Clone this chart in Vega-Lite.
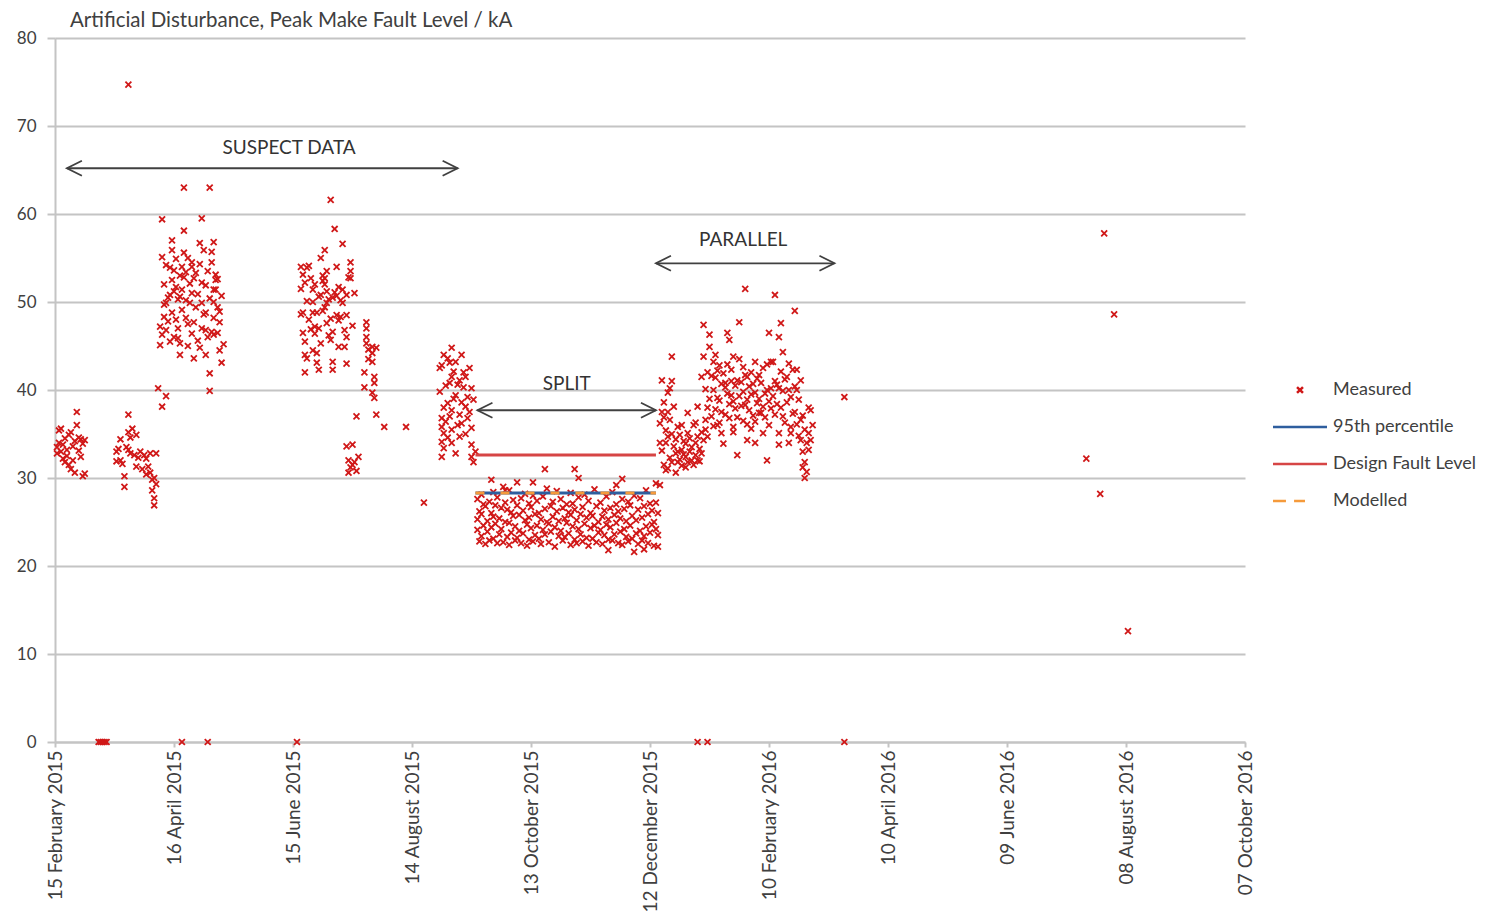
{
"$schema":"https://vega.github.io/schema/vega-lite/v6.json",
"width":1190,"height":704,
"autosize":"none",
"padding":{"left":55,"top":38,"right":241,"bottom":173},
"background":"white",
"title":{"text":"Artificial Disturbance, Peak Make Fault Level / kA","anchor":"start","frame":"group","offset":-2,"dx":15,"fontSize":20.5,"font":"Lato","fontWeight":"normal","color":"#404040"},
"config":{"view":{"stroke":null},"font":"Lato"},
"datasets":{
"measured":[
{"d":"2015-02-16","k":33.5},{"d":"2015-02-16","k":32.8},{"d":"2015-02-17","k":35.4},{"d":"2015-02-17","k":34.0},{"d":"2015-02-18","k":33.0},{"d":"2015-02-18","k":35.6},{"d":"2015-02-19","k":32.2},{"d":"2015-02-19","k":33.8},{"d":"2015-02-20","k":31.8},{"d":"2015-02-20","k":34.5},{"d":"2015-02-21","k":33.2},{"d":"2015-02-21","k":32.5},{"d":"2015-02-22","k":31.5},{"d":"2015-02-22","k":34.9},{"d":"2015-02-23","k":31.0},{"d":"2015-02-23","k":35.2},{"d":"2015-02-24","k":33.6},{"d":"2015-02-24","k":32.0},{"d":"2015-02-25","k":34.2},{"d":"2015-02-25","k":30.6},{"d":"2015-02-26","k":37.5},{"d":"2015-02-26","k":36.0},{"d":"2015-02-27","k":34.6},{"d":"2015-02-27","k":33.1},{"d":"2015-02-28","k":34.4},{"d":"2015-02-28","k":32.4},{"d":"2015-03-01","k":30.2},{"d":"2015-03-01","k":33.9},{"d":"2015-03-02","k":30.5},{"d":"2015-03-02","k":34.3},
{"d":"2015-03-09","k":0},{"d":"2015-03-10","k":0},{"d":"2015-03-11","k":0},{"d":"2015-03-12","k":0},{"d":"2015-03-13","k":0},
{"d":"2015-03-18","k":33.0},{"d":"2015-03-18","k":31.9},{"d":"2015-03-19","k":33.3},{"d":"2015-03-20","k":32.0},{"d":"2015-03-20","k":34.4},{"d":"2015-03-21","k":31.6},{"d":"2015-03-22","k":30.2},{"d":"2015-03-22","k":29.0},{"d":"2015-03-23","k":33.5},{"d":"2015-03-24","k":37.2},{"d":"2015-03-24","k":35.2},{"d":"2015-03-24","k":33.2},{"d":"2015-03-24","k":74.7},{"d":"2015-03-25","k":32.8},{"d":"2015-03-25","k":34.6},{"d":"2015-03-26","k":35.6},{"d":"2015-03-27","k":32.6},{"d":"2015-03-28","k":31.3},{"d":"2015-03-28","k":34.9},{"d":"2015-03-29","k":32.3},{"d":"2015-03-30","k":33.0},{"d":"2015-03-31","k":31.0},{"d":"2015-04-01","k":32.6},{"d":"2015-04-02","k":32.2},{"d":"2015-04-02","k":30.4},{"d":"2015-04-03","k":31.3},{"d":"2015-04-04","k":30.6},{"d":"2015-04-04","k":32.8},{"d":"2015-04-05","k":29.8},{"d":"2015-04-05","k":28.6},{"d":"2015-04-06","k":27.7},{"d":"2015-04-06","k":26.9},{"d":"2015-04-06","k":30.0},{"d":"2015-04-07","k":32.8},{"d":"2015-04-07","k":29.3},
{"d":"2015-04-08","k":40.2},{"d":"2015-04-09","k":45.1},{"d":"2015-04-09","k":47.2},{"d":"2015-04-10","k":59.4},{"d":"2015-04-10","k":55.1},{"d":"2015-04-10","k":46.3},{"d":"2015-04-10","k":38.1},{"d":"2015-04-11","k":49.7},{"d":"2015-04-11","k":48.3},{"d":"2015-04-11","k":52.0},{"d":"2015-04-12","k":49.9},{"d":"2015-04-12","k":46.8},{"d":"2015-04-12","k":39.3},{"d":"2015-04-12","k":54.2},{"d":"2015-04-13","k":50.5},{"d":"2015-04-13","k":47.8},{"d":"2015-04-14","k":50.8},{"d":"2015-04-14","k":53.9},{"d":"2015-04-14","k":45.5},{"d":"2015-04-15","k":57.0},{"d":"2015-04-15","k":55.9},{"d":"2015-04-15","k":52.5},{"d":"2015-04-15","k":48.8},{"d":"2015-04-16","k":53.6},{"d":"2015-04-16","k":46.0},{"d":"2015-04-16","k":51.2},{"d":"2015-04-17","k":51.7},{"d":"2015-04-17","k":48.0},{"d":"2015-04-17","k":54.9},{"d":"2015-04-18","k":47.0},{"d":"2015-04-18","k":45.9},{"d":"2015-04-18","k":50.3},{"d":"2015-04-19","k":50.6},{"d":"2015-04-19","k":45.3},{"d":"2015-04-19","k":44.0},{"d":"2015-04-19","k":53.0},{"d":"2015-04-20","k":54.0},{"d":"2015-04-20","k":51.4},{"d":"2015-04-20","k":49.1},{"d":"2015-04-20","k":0},{"d":"2015-04-21","k":63.0},{"d":"2015-04-21","k":58.1},{"d":"2015-04-21","k":55.6},{"d":"2015-04-21","k":52.8},{"d":"2015-04-22","k":48.2},{"d":"2015-04-22","k":50.2},{"d":"2015-04-22","k":53.4},{"d":"2015-04-23","k":45.0},{"d":"2015-04-23","k":55.0},{"d":"2015-04-23","k":47.5},{"d":"2015-04-24","k":49.9},{"d":"2015-04-24","k":52.1},{"d":"2015-04-25","k":54.5},{"d":"2015-04-25","k":54.0},{"d":"2015-04-25","k":51.0},{"d":"2015-04-25","k":46.4},{"d":"2015-04-26","k":52.7},{"d":"2015-04-26","k":47.7},{"d":"2015-04-26","k":43.6},{"d":"2015-04-27","k":49.4},{"d":"2015-04-27","k":53.3},{"d":"2015-04-28","k":50.9},{"d":"2015-04-28","k":45.6},{"d":"2015-04-29","k":56.7},{"d":"2015-04-29","k":54.3},{"d":"2015-04-29","k":44.8},{"d":"2015-04-30","k":59.5},{"d":"2015-04-30","k":52.2},{"d":"2015-04-30","k":49.9},{"d":"2015-04-30","k":47.0},{"d":"2015-05-01","k":55.9},{"d":"2015-05-01","k":48.6},{"d":"2015-05-02","k":51.9},{"d":"2015-05-02","k":46.8},{"d":"2015-05-02","k":48.8},{"d":"2015-05-02","k":44.0},{"d":"2015-05-03","k":46.0},{"d":"2015-05-03","k":53.5},{"d":"2015-05-03","k":0},{"d":"2015-05-04","k":63.0},{"d":"2015-05-04","k":41.9},{"d":"2015-05-04","k":39.9},{"d":"2015-05-04","k":50.4},{"d":"2015-05-05","k":55.7},{"d":"2015-05-05","k":46.6},{"d":"2015-05-05","k":54.5},{"d":"2015-05-06","k":56.8},{"d":"2015-05-06","k":51.4},{"d":"2015-05-06","k":50.0},{"d":"2015-05-06","k":48.2},{"d":"2015-05-06","k":46.3},{"d":"2015-05-07","k":53.1},{"d":"2015-05-07","k":52.5},{"d":"2015-05-07","k":51.4},{"d":"2015-05-08","k":49.4},{"d":"2015-05-08","k":46.5},{"d":"2015-05-08","k":52.6},{"d":"2015-05-09","k":48.9},{"d":"2015-05-09","k":47.7},{"d":"2015-05-09","k":44.5},{"d":"2015-05-10","k":43.1},{"d":"2015-05-10","k":50.7},{"d":"2015-05-11","k":45.2},
{"d":"2015-06-17","k":0},
{"d":"2015-06-19","k":51.5},{"d":"2015-06-19","k":54.0},{"d":"2015-06-19","k":48.6},{"d":"2015-06-20","k":46.5},{"d":"2015-06-20","k":48.8},{"d":"2015-06-20","k":53.1},{"d":"2015-06-21","k":45.5},{"d":"2015-06-21","k":44.0},{"d":"2015-06-21","k":42.0},{"d":"2015-06-21","k":52.2},{"d":"2015-06-22","k":53.9},{"d":"2015-06-22","k":43.6},{"d":"2015-06-22","k":50.1},{"d":"2015-06-23","k":48.0},{"d":"2015-06-23","k":54.1},{"d":"2015-06-24","k":52.7},{"d":"2015-06-24","k":46.9},{"d":"2015-06-25","k":51.4},{"d":"2015-06-25","k":50.0},{"d":"2015-06-25","k":48.8},{"d":"2015-06-25","k":44.5},{"d":"2015-06-26","k":47.2},{"d":"2015-06-26","k":46.4},{"d":"2015-06-26","k":52.0},{"d":"2015-06-27","k":44.2},{"d":"2015-06-27","k":48.8},{"d":"2015-06-27","k":43.1},{"d":"2015-06-28","k":42.3},{"d":"2015-06-28","k":50.6},{"d":"2015-06-28","k":47.0},{"d":"2015-06-29","k":55.0},{"d":"2015-06-29","k":50.8},{"d":"2015-06-29","k":45.3},{"d":"2015-06-30","k":49.0},{"d":"2015-06-30","k":52.4},{"d":"2015-06-30","k":53.0},{"d":"2015-07-01","k":55.9},{"d":"2015-07-01","k":52.7},{"d":"2015-07-01","k":49.4},{"d":"2015-07-01","k":52.0},{"d":"2015-07-02","k":53.5},{"d":"2015-07-02","k":49.9},{"d":"2015-07-02","k":47.6},{"d":"2015-07-02","k":51.2},{"d":"2015-07-03","k":46.2},{"d":"2015-07-03","k":50.3},{"d":"2015-07-04","k":61.6},{"d":"2015-07-04","k":45.7},{"d":"2015-07-04","k":48.1},{"d":"2015-07-05","k":46.6},{"d":"2015-07-05","k":43.2},{"d":"2015-07-05","k":42.3},{"d":"2015-07-05","k":50.5},{"d":"2015-07-06","k":58.3},{"d":"2015-07-06","k":51.1},{"d":"2015-07-07","k":54.0},{"d":"2015-07-07","k":48.5},{"d":"2015-07-07","k":50.7},{"d":"2015-07-08","k":44.9},{"d":"2015-07-08","k":51.7},{"d":"2015-07-08","k":47.9},{"d":"2015-07-09","k":48.3},{"d":"2015-07-09","k":50.2},{"d":"2015-07-10","k":56.6},{"d":"2015-07-10","k":51.4},{"d":"2015-07-10","k":49.9},{"d":"2015-07-11","k":44.9},{"d":"2015-07-11","k":46.8},{"d":"2015-07-12","k":46.0},{"d":"2015-07-12","k":50.8},{"d":"2015-07-12","k":48.5},{"d":"2015-07-12","k":43.0},{"d":"2015-07-12","k":33.6},{"d":"2015-07-13","k":52.8},{"d":"2015-07-13","k":32.0},{"d":"2015-07-13","k":30.6},{"d":"2015-07-14","k":54.5},{"d":"2015-07-14","k":53.5},{"d":"2015-07-14","k":52.7},{"d":"2015-07-14","k":31.2},{"d":"2015-07-15","k":47.3},{"d":"2015-07-15","k":33.8},{"d":"2015-07-15","k":31.5},{"d":"2015-07-16","k":51.0},{"d":"2015-07-16","k":31.8},{"d":"2015-07-17","k":37.0},{"d":"2015-07-17","k":30.8},{"d":"2015-07-18","k":32.4},{"d":"2015-07-21","k":42.0},{"d":"2015-07-21","k":40.3},{"d":"2015-07-22","k":47.7},{"d":"2015-07-22","k":47.0},{"d":"2015-07-22","k":46.0},{"d":"2015-07-22","k":45.3},{"d":"2015-07-23","k":44.6},{"d":"2015-07-23","k":43.5},{"d":"2015-07-25","k":44.9},{"d":"2015-07-25","k":44.2},{"d":"2015-07-25","k":43.2},{"d":"2015-07-25","k":39.7},{"d":"2015-07-26","k":41.5},{"d":"2015-07-26","k":40.8},{"d":"2015-07-26","k":39.1},{"d":"2015-07-27","k":44.8},{"d":"2015-07-27","k":37.2},{"d":"2015-07-31","k":35.8},{"d":"2015-08-11","k":35.8},{"d":"2015-08-20","k":27.2},
{"d":"2015-08-28","k":39.8},{"d":"2015-08-28","k":42.5},{"d":"2015-08-29","k":42.8},{"d":"2015-08-29","k":36.8},{"d":"2015-08-29","k":35.8},{"d":"2015-08-29","k":34.1},{"d":"2015-08-29","k":32.4},{"d":"2015-08-30","k":44.0},{"d":"2015-08-30","k":35.1},{"d":"2015-08-30","k":33.4},{"d":"2015-08-30","k":38.0},{"d":"2015-08-31","k":40.5},{"d":"2015-08-31","k":36.4},{"d":"2015-09-01","k":38.5},{"d":"2015-09-01","k":43.6},{"d":"2015-09-01","k":34.6},{"d":"2015-09-02","k":43.1},{"d":"2015-09-02","k":40.8},{"d":"2015-09-02","k":37.0},{"d":"2015-09-03","k":44.8},{"d":"2015-09-03","k":41.5},{"d":"2015-09-03","k":37.7},{"d":"2015-09-03","k":35.5},{"d":"2015-09-03","k":34.0},{"d":"2015-09-04","k":39.0},{"d":"2015-09-04","k":42.1},{"d":"2015-09-05","k":43.2},{"d":"2015-09-05","k":39.4},{"d":"2015-09-05","k":32.8},{"d":"2015-09-06","k":36.0},{"d":"2015-09-06","k":40.6},{"d":"2015-09-07","k":41.1},{"d":"2015-09-07","k":37.2},{"d":"2015-09-07","k":34.7},{"d":"2015-09-08","k":44.0},{"d":"2015-09-08","k":38.6},{"d":"2015-09-08","k":36.2},{"d":"2015-09-09","k":40.3},{"d":"2015-09-09","k":42.0},{"d":"2015-09-10","k":41.5},{"d":"2015-09-10","k":38.1},{"d":"2015-09-10","k":35.0},{"d":"2015-09-11","k":39.2},{"d":"2015-09-11","k":36.8},{"d":"2015-09-12","k":42.5},{"d":"2015-09-12","k":37.5},{"d":"2015-09-13","k":40.2},{"d":"2015-09-13","k":35.7},{"d":"2015-09-13","k":33.8},{"d":"2015-09-13","k":32.4},{"d":"2015-09-14","k":31.8},{"d":"2015-09-14","k":38.9},{"d":"2015-09-15","k":33.0},
{"d":"2015-09-16","k":24.1},{"d":"2015-09-16","k":27.6},{"d":"2015-09-16","k":25.3},{"d":"2015-09-17","k":22.8},{"d":"2015-09-17","k":26.2},{"d":"2015-09-18","k":25.9},{"d":"2015-09-18","k":23.4},{"d":"2015-09-18","k":28.1},{"d":"2015-09-19","k":24.6},{"d":"2015-09-19","k":27.0},{"d":"2015-09-20","k":22.5},{"d":"2015-09-20","k":26.8},{"d":"2015-09-21","k":25.1},{"d":"2015-09-21","k":23.9},{"d":"2015-09-22","k":27.3},{"d":"2015-09-22","k":22.9},{"d":"2015-09-23","k":26.0},{"d":"2015-09-23","k":24.4},{"d":"2015-09-23","k":29.8},{"d":"2015-09-24","k":28.4},{"d":"2015-09-24","k":23.1},{"d":"2015-09-24","k":25.6},{"d":"2015-09-25","k":24.8},{"d":"2015-09-25","k":26.9},{"d":"2015-09-26","k":22.6},{"d":"2015-09-26","k":27.8},{"d":"2015-09-27","k":25.4},{"d":"2015-09-27","k":23.6},{"d":"2015-09-28","k":26.6},{"d":"2015-09-28","k":24.2},{"d":"2015-09-29","k":29.0},{"d":"2015-09-29","k":22.7},{"d":"2015-09-30","k":25.0},{"d":"2015-09-30","k":27.2},{"d":"2015-09-30","k":28.6},
{"d":"2015-10-01","k":23.3},{"d":"2015-10-01","k":26.4},{"d":"2015-10-02","k":24.9},{"d":"2015-10-02","k":28.6},{"d":"2015-10-02","k":22.4},{"d":"2015-10-03","k":26.1},{"d":"2015-10-03","k":23.8},{"d":"2015-10-04","k":25.7},{"d":"2015-10-04","k":27.5},{"d":"2015-10-05","k":22.9},{"d":"2015-10-05","k":24.5},{"d":"2015-10-06","k":26.9},{"d":"2015-10-06","k":23.2},{"d":"2015-10-06","k":29.5},{"d":"2015-10-07","k":24.0},{"d":"2015-10-07","k":25.8},{"d":"2015-10-08","k":27.7},{"d":"2015-10-08","k":22.6},{"d":"2015-10-09","k":23.7},{"d":"2015-10-09","k":26.3},{"d":"2015-10-10","k":25.2},{"d":"2015-10-10","k":28.2},{"d":"2015-10-11","k":22.3},{"d":"2015-10-11","k":24.7},{"d":"2015-10-12","k":27.1},{"d":"2015-10-12","k":25.5},{"d":"2015-10-12","k":23.0},{"d":"2015-10-13","k":26.7},{"d":"2015-10-13","k":24.3},{"d":"2015-10-14","k":22.8},{"d":"2015-10-14","k":28.0},{"d":"2015-10-14","k":29.5},{"d":"2015-10-15","k":25.9},{"d":"2015-10-15","k":23.5},{"d":"2015-10-16","k":24.6},{"d":"2015-10-16","k":27.4},{"d":"2015-10-17","k":23.1},{"d":"2015-10-17","k":26.0},{"d":"2015-10-18","k":22.5},{"d":"2015-10-18","k":25.3},{"d":"2015-10-19","k":27.9},{"d":"2015-10-19","k":24.1},{"d":"2015-10-20","k":23.6},{"d":"2015-10-20","k":26.5},{"d":"2015-10-20","k":31.0},{"d":"2015-10-21","k":25.0},{"d":"2015-10-21","k":28.8},{"d":"2015-10-22","k":22.7},{"d":"2015-10-22","k":24.8},{"d":"2015-10-23","k":26.8},{"d":"2015-10-23","k":23.9},{"d":"2015-10-24","k":25.6},{"d":"2015-10-24","k":27.3},{"d":"2015-10-25","k":22.2},{"d":"2015-10-25","k":24.4},{"d":"2015-10-26","k":26.2},{"d":"2015-10-26","k":28.5},{"d":"2015-10-27","k":23.4},{"d":"2015-10-27","k":25.1},{"d":"2015-10-28","k":27.6},{"d":"2015-10-28","k":24.0},{"d":"2015-10-29","k":22.9},{"d":"2015-10-29","k":26.6},{"d":"2015-10-30","k":25.4},{"d":"2015-10-30","k":23.3},{"d":"2015-10-31","k":27.0},{"d":"2015-10-31","k":24.9},
{"d":"2015-11-01","k":23.7},{"d":"2015-11-01","k":26.1},{"d":"2015-11-02","k":22.4},{"d":"2015-11-02","k":25.8},{"d":"2015-11-02","k":28.3},{"d":"2015-11-03","k":24.5},{"d":"2015-11-03","k":27.1},{"d":"2015-11-04","k":23.0},{"d":"2015-11-04","k":26.4},{"d":"2015-11-04","k":31.0},{"d":"2015-11-05","k":25.2},{"d":"2015-11-05","k":22.6},{"d":"2015-11-06","k":27.8},{"d":"2015-11-06","k":24.2},{"d":"2015-11-06","k":30.0},{"d":"2015-11-07","k":23.6},{"d":"2015-11-07","k":25.9},{"d":"2015-11-08","k":26.7},{"d":"2015-11-08","k":22.8},{"d":"2015-11-09","k":24.8},{"d":"2015-11-09","k":28.1},{"d":"2015-11-10","k":23.2},{"d":"2015-11-10","k":25.5},{"d":"2015-11-11","k":27.4},{"d":"2015-11-11","k":22.3},{"d":"2015-11-12","k":24.3},{"d":"2015-11-12","k":26.0},{"d":"2015-11-13","k":25.7},{"d":"2015-11-13","k":23.1},{"d":"2015-11-14","k":28.7},{"d":"2015-11-14","k":24.6},{"d":"2015-11-15","k":22.7},{"d":"2015-11-15","k":26.8},{"d":"2015-11-16","k":25.0},{"d":"2015-11-16","k":23.8},{"d":"2015-11-17","k":27.2},{"d":"2015-11-17","k":24.1},{"d":"2015-11-18","k":22.5},{"d":"2015-11-18","k":25.6},{"d":"2015-11-19","k":26.3},{"d":"2015-11-19","k":23.5},{"d":"2015-11-20","k":24.7},{"d":"2015-11-20","k":27.9},{"d":"2015-11-21","k":23.0},{"d":"2015-11-21","k":25.3},{"d":"2015-11-21","k":21.8},{"d":"2015-11-22","k":26.6},{"d":"2015-11-22","k":24.4},{"d":"2015-11-23","k":22.9},{"d":"2015-11-23","k":28.4},{"d":"2015-11-24","k":25.8},{"d":"2015-11-24","k":23.6},{"d":"2015-11-25","k":27.0},{"d":"2015-11-25","k":24.9},{"d":"2015-11-25","k":29.2},{"d":"2015-11-26","k":22.6},{"d":"2015-11-26","k":26.2},{"d":"2015-11-27","k":23.9},{"d":"2015-11-27","k":25.4},{"d":"2015-11-28","k":27.6},{"d":"2015-11-28","k":22.4},{"d":"2015-11-28","k":29.9},{"d":"2015-11-29","k":24.2},{"d":"2015-11-29","k":26.5},{"d":"2015-11-30","k":23.3},{"d":"2015-11-30","k":25.1},
{"d":"2015-12-01","k":27.3},{"d":"2015-12-01","k":22.8},{"d":"2015-12-02","k":24.6},{"d":"2015-12-02","k":26.9},{"d":"2015-12-03","k":23.1},{"d":"2015-12-03","k":25.7},{"d":"2015-12-04","k":28.0},{"d":"2015-12-04","k":21.6},{"d":"2015-12-05","k":25.2},{"d":"2015-12-05","k":23.7},{"d":"2015-12-06","k":26.4},{"d":"2015-12-06","k":22.5},{"d":"2015-12-07","k":24.0},{"d":"2015-12-07","k":27.7},{"d":"2015-12-08","k":22.9},{"d":"2015-12-08","k":25.5},{"d":"2015-12-09","k":26.8},{"d":"2015-12-09","k":23.4},{"d":"2015-12-09","k":21.9},{"d":"2015-12-10","k":24.5},{"d":"2015-12-10","k":28.6},{"d":"2015-12-11","k":22.6},{"d":"2015-12-11","k":25.9},{"d":"2015-12-12","k":27.1},{"d":"2015-12-12","k":23.8},{"d":"2015-12-13","k":24.7},{"d":"2015-12-13","k":26.3},{"d":"2015-12-14","k":22.3},{"d":"2015-12-14","k":25.0},{"d":"2015-12-15","k":29.4},{"d":"2015-12-15","k":24.2},{"d":"2015-12-15","k":27.2},{"d":"2015-12-16","k":23.5},{"d":"2015-12-16","k":26.0},{"d":"2015-12-16","k":22.2},
{"d":"2015-12-17","k":29.2},{"d":"2015-12-17","k":34.0},{"d":"2015-12-17","k":36.2},{"d":"2015-12-18","k":41.1},{"d":"2015-12-18","k":33.1},{"d":"2015-12-18","k":37.5},{"d":"2015-12-19","k":36.9},{"d":"2015-12-19","k":31.5},{"d":"2015-12-19","k":38.6},{"d":"2015-12-20","k":34.0},{"d":"2015-12-20","k":30.9},{"d":"2015-12-20","k":35.4},{"d":"2015-12-21","k":39.7},{"d":"2015-12-21","k":34.7},{"d":"2015-12-21","k":37.5},{"d":"2015-12-21","k":31.1},{"d":"2015-12-22","k":40.2},{"d":"2015-12-22","k":36.6},{"d":"2015-12-22","k":32.3},{"d":"2015-12-23","k":43.8},{"d":"2015-12-23","k":41.0},{"d":"2015-12-23","k":31.8},{"d":"2015-12-23","k":35.0},{"d":"2015-12-24","k":38.1},{"d":"2015-12-24","k":33.6},{"d":"2015-12-25","k":32.8},{"d":"2015-12-25","k":34.4},{"d":"2015-12-25","k":30.6},{"d":"2015-12-26","k":35.8},{"d":"2015-12-26","k":31.8},{"d":"2015-12-26","k":33.0},{"d":"2015-12-27","k":32.1},{"d":"2015-12-27","k":34.9},{"d":"2015-12-28","k":33.2},{"d":"2015-12-28","k":31.4},{"d":"2015-12-28","k":36.0},{"d":"2015-12-29","k":32.7},{"d":"2015-12-29","k":34.2},{"d":"2015-12-30","k":32.4},{"d":"2015-12-30","k":33.9},{"d":"2015-12-30","k":31.2},{"d":"2015-12-31","k":37.4},{"d":"2015-12-31","k":35.1},{"d":"2015-12-31","k":31.8},{"d":"2016-01-01","k":33.0},{"d":"2016-01-01","k":34.5},{"d":"2016-01-02","k":33.5},{"d":"2016-01-02","k":32.0},{"d":"2016-01-03","k":36.0},{"d":"2016-01-03","k":31.5},{"d":"2016-01-04","k":34.0},{"d":"2016-01-04","k":36.3},{"d":"2016-01-04","k":32.6},{"d":"2016-01-05","k":34.7},{"d":"2016-01-05","k":38.1},{"d":"2016-01-05","k":32.0},{"d":"2016-01-05","k":0},{"d":"2016-01-06","k":33.3},{"d":"2016-01-06","k":31.9},{"d":"2016-01-07","k":32.8},{"d":"2016-01-07","k":41.5},{"d":"2016-01-07","k":35.2},{"d":"2016-01-08","k":47.4},{"d":"2016-01-08","k":34.3},{"d":"2016-01-08","k":43.8},
{"d":"2016-01-09","k":36.6},{"d":"2016-01-09","k":35.5},{"d":"2016-01-09","k":40.1},{"d":"2016-01-10","k":38.0},{"d":"2016-01-10","k":34.7},{"d":"2016-01-10","k":42.0},{"d":"2016-01-10","k":0},{"d":"2016-01-11","k":46.3},{"d":"2016-01-11","k":44.9},{"d":"2016-01-11","k":39.0},{"d":"2016-01-12","k":37.0},{"d":"2016-01-12","k":41.6},{"d":"2016-01-13","k":40.0},{"d":"2016-01-13","k":35.9},{"d":"2016-01-13","k":43.2},{"d":"2016-01-14","k":44.0},{"d":"2016-01-14","k":41.4},{"d":"2016-01-14","k":37.8},{"d":"2016-01-15","k":39.1},{"d":"2016-01-15","k":42.2},{"d":"2016-01-15","k":36.0},{"d":"2016-01-16","k":42.8},{"d":"2016-01-16","k":36.3},{"d":"2016-01-16","k":38.8},{"d":"2016-01-17","k":37.5},{"d":"2016-01-17","k":35.1},{"d":"2016-01-17","k":40.7},{"d":"2016-01-18","k":41.9},{"d":"2016-01-18","k":33.9},{"d":"2016-01-19","k":40.8},{"d":"2016-01-19","k":40.3},{"d":"2016-01-19","k":37.2},{"d":"2016-01-20","k":46.5},{"d":"2016-01-20","k":39.6},{"d":"2016-01-20","k":42.9},{"d":"2016-01-21","k":45.7},{"d":"2016-01-21","k":38.4},{"d":"2016-01-21","k":36.8},{"d":"2016-01-22","k":42.3},{"d":"2016-01-22","k":39.4},{"d":"2016-01-22","k":41.0},{"d":"2016-01-23","k":43.8},{"d":"2016-01-23","k":35.2},{"d":"2016-01-23","k":35.8},{"d":"2016-01-23","k":38.7},{"d":"2016-01-24","k":40.5},{"d":"2016-01-24","k":37.9},{"d":"2016-01-25","k":36.9},{"d":"2016-01-25","k":41.1},{"d":"2016-01-25","k":32.6},{"d":"2016-01-26","k":47.7},{"d":"2016-01-26","k":39.3},{"d":"2016-01-26","k":43.5},{"d":"2016-01-27","k":38.2},{"d":"2016-01-27","k":40.9},{"d":"2016-01-28","k":42.6},{"d":"2016-01-28","k":39.8},{"d":"2016-01-28","k":36.5},{"d":"2016-01-29","k":51.5},{"d":"2016-01-29","k":41.7},{"d":"2016-01-29","k":38.3},{"d":"2016-01-30","k":38.9},{"d":"2016-01-30","k":36.1},{"d":"2016-01-30","k":41.5},{"d":"2016-01-30","k":34.3},{"d":"2016-01-31","k":37.7},{"d":"2016-01-31","k":40.4},
{"d":"2016-02-01","k":39.5},{"d":"2016-02-01","k":42.0},{"d":"2016-02-01","k":35.6},{"d":"2016-02-02","k":40.7},{"d":"2016-02-02","k":37.1},{"d":"2016-02-03","k":43.2},{"d":"2016-02-03","k":39.7},{"d":"2016-02-03","k":36.4},{"d":"2016-02-03","k":34.0},{"d":"2016-02-04","k":38.5},{"d":"2016-02-04","k":41.3},{"d":"2016-02-05","k":41.7},{"d":"2016-02-05","k":39.0},{"d":"2016-02-05","k":37.4},{"d":"2016-02-06","k":37.4},{"d":"2016-02-06","k":40.8},{"d":"2016-02-07","k":42.5},{"d":"2016-02-07","k":35.1},{"d":"2016-02-07","k":38.1},{"d":"2016-02-08","k":39.6},{"d":"2016-02-08","k":36.9},{"d":"2016-02-09","k":32.0},{"d":"2016-02-09","k":40.0},{"d":"2016-02-09","k":42.9},{"d":"2016-02-10","k":46.5},{"d":"2016-02-10","k":36.0},{"d":"2016-02-10","k":38.7},{"d":"2016-02-11","k":40.2},{"d":"2016-02-11","k":37.9},{"d":"2016-02-11","k":43.2},{"d":"2016-02-12","k":43.2},{"d":"2016-02-12","k":39.3},{"d":"2016-02-13","k":50.8},{"d":"2016-02-13","k":37.2},{"d":"2016-02-13","k":41.0},{"d":"2016-02-14","k":38.4},{"d":"2016-02-14","k":40.6},{"d":"2016-02-15","k":46.0},{"d":"2016-02-15","k":40.2},{"d":"2016-02-15","k":35.1},{"d":"2016-02-15","k":33.8},{"d":"2016-02-16","k":47.6},{"d":"2016-02-16","k":42.1},{"d":"2016-02-16","k":38.0},{"d":"2016-02-17","k":44.3},{"d":"2016-02-17","k":37.0},{"d":"2016-02-17","k":39.9},{"d":"2016-02-18","k":36.3},{"d":"2016-02-18","k":41.2},{"d":"2016-02-19","k":41.5},{"d":"2016-02-19","k":38.6},{"d":"2016-02-20","k":43.0},{"d":"2016-02-20","k":40.0},{"d":"2016-02-20","k":34.0},{"d":"2016-02-21","k":35.8},{"d":"2016-02-21","k":35.1},{"d":"2016-02-21","k":39.2},{"d":"2016-02-22","k":42.3},{"d":"2016-02-22","k":37.3},{"d":"2016-02-23","k":49.0},{"d":"2016-02-23","k":37.5},{"d":"2016-02-23","k":40.4},{"d":"2016-02-24","k":42.3},{"d":"2016-02-24","k":40.0},{"d":"2016-02-24","k":36.1},{"d":"2016-02-25","k":38.9},{"d":"2016-02-25","k":34.8},{"d":"2016-02-26","k":41.1},{"d":"2016-02-26","k":36.6},{"d":"2016-02-26","k":34.3},{"d":"2016-02-27","k":33.0},{"d":"2016-02-27","k":31.2},{"d":"2016-02-27","k":37.1},{"d":"2016-02-28","k":31.8},{"d":"2016-02-28","k":30.0},{"d":"2016-02-28","k":35.5},{"d":"2016-02-29","k":34.0},{"d":"2016-02-29","k":30.7},{"d":"2016-03-01","k":38.0},{"d":"2016-03-01","k":33.2},{"d":"2016-03-01","k":35.1},{"d":"2016-03-02","k":37.7},{"d":"2016-03-02","k":34.3},{"d":"2016-03-03","k":36.0},
{"d":"2016-03-19","k":39.2},{"d":"2016-03-19","k":0},
{"d":"2016-07-19","k":32.2},{"d":"2016-07-26","k":28.2},{"d":"2016-07-28","k":57.8},{"d":"2016-08-02","k":48.6},{"d":"2016-08-09","k":12.6}
],
"arrows":[
{"s":"2015-02-21","e":"2015-09-06","v":65.2},
{"s":"2015-12-15","e":"2016-03-14","v":54.4},
{"s":"2015-09-16","e":"2015-12-15","v":37.7}
],
"labels":[
{"d":"2015-06-13","v":67.5,"t":"SUSPECT DATA"},
{"d":"2016-01-28","v":57.0,"t":"PARALLEL"},
{"d":"2015-10-31","v":40.7,"t":"SPLIT"}
]
},
"layer":[
{"data":{"name":"measured"},
 "mark":{"type":"point","size":729,"strokeWidth":1.8,"filled":false,"opacity":1},
 "encoding":{
  "x":{"field":"d","type":"temporal","title":null,
   "scale":{"type":"utc","domain":[{"year":2015,"month":2,"date":15,"utc":true},{"year":2016,"month":10,"date":7,"utc":true}]},
   "axis":{"values":[{"year":2015,"month":2,"date":15,"utc":true},{"year":2015,"month":4,"date":16,"utc":true},{"year":2015,"month":6,"date":15,"utc":true},{"year":2015,"month":8,"date":14,"utc":true},{"year":2015,"month":10,"date":13,"utc":true},{"year":2015,"month":12,"date":12,"utc":true},{"year":2016,"month":2,"date":10,"utc":true},{"year":2016,"month":4,"date":10,"utc":true},{"year":2016,"month":6,"date":9,"utc":true},{"year":2016,"month":8,"date":8,"utc":true},{"year":2016,"month":10,"date":7,"utc":true}],
    "labelExpr":"utcFormat(datum.value, '%d %B %Y')",
    "labelAngle":270,"labelFont":"Lato","labelFontSize":19,"labelColor":"#404040","labelPadding":3,
    "labelOverlap":false,"labelFlush":false,"labelBound":false,
    "tickSize":5,"tickColor":"#c4c4c4","tickWidth":2,"domainColor":"#c4c4c4","domainWidth":2,"grid":false,"title":null}},
  "y":{"field":"k","type":"quantitative","title":null,
   "scale":{"domain":[0,80],"nice":false,"zero":true},
   "axis":{"values":[0,10,20,30,40,50,60,70,80],"grid":true,"gridColor":"#c4c4c4","gridWidth":2,
    "domainColor":"#c4c4c4","domainWidth":2,"tickColor":"#c4c4c4","tickWidth":2,"tickSize":8,"labelPadding":11,
    "labelFont":"Lato","labelFontSize":17,"labelColor":"#404040","title":null}},
  "color":{"datum":"Measured","type":"nominal",
   "scale":{"domain":["Measured","95th percentile","Design Fault Level","Modelled"],"range":["#d01818","#2e5e9e","#d64545","#f59a3b"]},
   "legend":{"title":null,"orient":"none","legendX":1230,"legendY":337,"labelFont":"Lato","labelFontSize":18,"labelColor":"#404040","rowPadding":13,"labelOffset":18,"padding":0,"symbolStrokeWidth":2.5,"symbolSize":729}},
  "shape":{"datum":"Measured","type":"nominal",
   "scale":{"domain":["Measured","95th percentile","Design Fault Level","Modelled"],"range":["M-0.22,-0.22L0.22,0.22M-0.22,0.22L0.22,-0.22","M-2,0L2,0","M-2,0L2,0","M-2,0L-1.04,0M-0.44,0L0.37,0"]},
   "legend":{"title":null,"orient":"none","legendX":1230,"legendY":337,"labelFont":"Lato","labelFontSize":18,"labelColor":"#404040","rowPadding":13,"labelOffset":18,"padding":0,"symbolStrokeWidth":2.5,"symbolSize":729}}
 }},
{"data":{"values":[{"s":"2015-09-15","e":"2015-12-15","v":32.6}]},
 "mark":{"type":"rule","color":"#d64545","strokeWidth":3},
 "encoding":{"x":{"field":"s","type":"temporal","title":null},"x2":{"field":"e"},"y":{"field":"v","type":"quantitative","title":null}}},
{"data":{"values":[{"s":"2015-09-15","e":"2015-12-15","v":28.3}]},
 "mark":{"type":"rule","color":"#2e5e9e","strokeWidth":3},
 "encoding":{"x":{"field":"s","type":"temporal","title":null},"x2":{"field":"e"},"y":{"field":"v","type":"quantitative","title":null}}},
{"data":{"values":[{"s":"2015-09-15","e":"2015-12-15","v":28.3}]},
 "mark":{"type":"rule","color":"#f59a3b","strokeWidth":3,"strokeDash":[9,16]},
 "encoding":{"x":{"field":"s","type":"temporal","title":null},"x2":{"field":"e"},"y":{"field":"v","type":"quantitative","title":null}}},
{"data":{"name":"arrows"},
 "mark":{"type":"rule","color":"#404040","strokeWidth":1.8},
 "encoding":{"x":{"field":"s","type":"temporal","title":null},"x2":{"field":"e"},"y":{"field":"v","type":"quantitative","title":null}}},
{"data":{"name":"arrows"},
 "mark":{"type":"point","shape":"M3,-1.5L0,0L3,1.5","size":100,"filled":false,"color":"#404040","strokeWidth":1.8,"opacity":1},
 "encoding":{"x":{"field":"s","type":"temporal","title":null},"y":{"field":"v","type":"quantitative","title":null}}},
{"data":{"name":"arrows"},
 "mark":{"type":"point","shape":"M-3,-1.5L0,0L-3,1.5","size":100,"filled":false,"color":"#404040","strokeWidth":1.8,"opacity":1},
 "encoding":{"x":{"field":"e","type":"temporal","title":null},"y":{"field":"v","type":"quantitative","title":null}}},
{"data":{"name":"labels"},
 "mark":{"type":"text","font":"Lato","fontSize":19,"color":"#333333","align":"center","baseline":"middle"},
 "encoding":{"x":{"field":"d","type":"temporal","title":null},"y":{"field":"v","type":"quantitative","title":null},"text":{"field":"t"}}}
]
}
